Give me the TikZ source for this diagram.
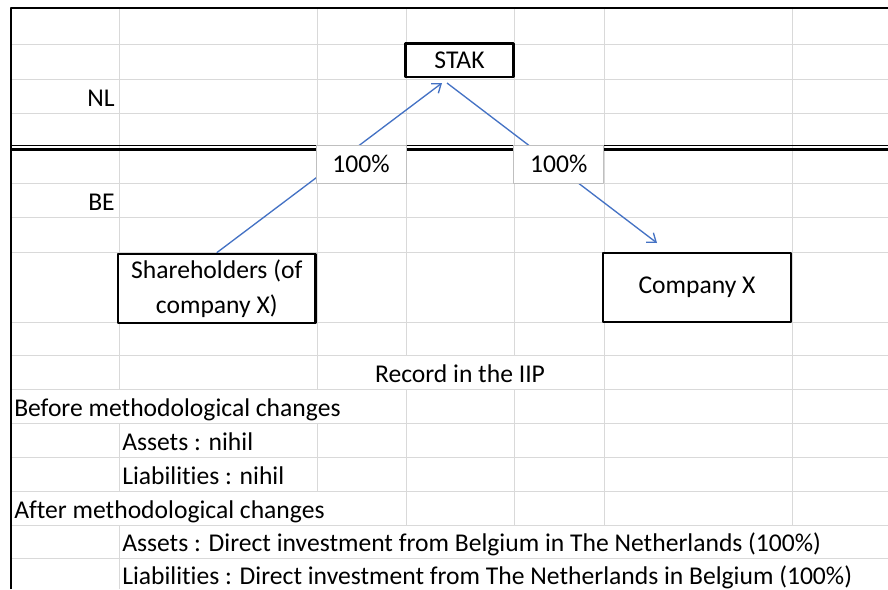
\documentclass[tikz,border=0pt]{standalone}
\usepackage{fontspec}
\setmainfont{Carlito}[Ligatures=NoCommon]
\usepackage{tikz}
\usetikzlibrary{arrows.meta}
\definecolor{linkblue}{RGB}{68,114,196}
\definecolor{gridgray}{RGB}{217,217,217}
\definecolor{labelgray}{RGB}{191,191,191}
\newcommand{\sheetfont}{\fontsize{19.2}{26.25}\selectfont}

\begin{document}
\begin{tikzpicture}[x=0.75pt,y=-0.75pt,line join=round,
  gridline/.style={gridgray,line width=0.75pt},
  cell/.style={font=\sheetfont,inner sep=0pt},
  entity/.style={draw=black,line width=2pt,fill=white,font=\sheetfont,inner sep=2pt,align=center},
  share/.style={draw=labelgray,line width=0.75pt,fill=white,font=\sheetfont,minimum width=67.5pt,minimum height=28.9pt,inner sep=0pt},
  link/.style={linkblue,line width=1pt,-{Straight Barb[length=6pt,width=9pt]}}]
\useasboundingbox (0,0) rectangle (888,589);
\draw[gridline] (11,44) -- (888,44) (11,79) -- (888,79) (11,113) -- (888,113);
\draw[gridline] (11,183.7) -- (888,183.7) (11,217.3) -- (888,217.3) (11,252.7) -- (888,252.7);
\draw[gridline] (11,322.3) -- (888,322.3) (11,355.7) -- (888,355.7) (11,389.3) -- (888,389.3);
\draw[gridline] (11,423.3) -- (888,423.3) (11,457.7) -- (888,457.7) (11,491) -- (888,491);
\draw[gridline] (11,525) -- (888,525) (11,558.3) -- (888,558.3);
\draw[gridline] (119,8) -- (119,589) (317,8) -- (317,589) (406,8) -- (406,589);
\draw[gridline] (514,8) -- (514,589) (604,8) -- (604,589) (792,8) -- (792,589);
\fill[white] (317.6,356.3) rectangle (603.4,388.8);
\fill[white] (12,389.9) rectangle (405.4,422.8);
\fill[white] (12,491.6) rectangle (405.4,524.5);
\fill[white] (119.6,525.6) rectangle (888,557.8);
\fill[white] (119.6,558.9) rectangle (888,589);
\draw[line width=1.5pt] (11,589) -- (11,8) -- (888,8);
\draw[line width=0.9pt] (11,145.5) -- (888,145.5);
\draw[line width=1.9pt] (11,149.7) -- (888,149.7);
\node[cell,anchor=base east] (nl) at (115,106) {NL};
\node[cell,anchor=base east] (be) at (115,210) {BE};
\node[cell,anchor=base] (record) at (460,382.5) {Record in the IIP};
\node[cell,anchor=base west] (before) at (14,416) {Before methodological changes};
\node[cell,anchor=base west] (assetsnil) at (122,450.5) {Assets : nihil};
\node[cell,anchor=base west] (liabnil) at (122,484) {Liabilities : nihil};
\node[cell,anchor=base west] (after) at (14,518) {After methodological changes};
\node[cell,anchor=base west] (assetsdi) at (122,551.3) {Assets : Direct investment from Belgium in The Netherlands (100\%)};
\node[cell,anchor=base west] (liabdi) at (122,584.3) {Liabilities : Direct investment from The Netherlands in Belgium (100\%)};
\node[entity,minimum width=81.3pt,minimum height=25pt] (stak) at (459.5,60.3) {STAK};
\node[entity,minimum width=148.3pt,minimum height=51.75pt] (holders) at (216.8,288.5) {Shareholders (of\\company X)};
\node[entity,minimum width=141pt,minimum height=51.75pt] (company) at (697,287.5) {\raisebox{-1.5pt}{Company X}};
\coordinate (stakleft) at (442,83);
\coordinate (stakright) at (447,83);
\coordinate (companyin) at (657,243);
\draw[link] (holders.north) -- (stakleft);
\draw[link] (stakright) -- (companyin);
\node[share] (shareleft) at (361,164.3) {100\%};
\node[share] (shareright) at (558.8,164.3) {100\%};
\end{tikzpicture}
\end{document}
